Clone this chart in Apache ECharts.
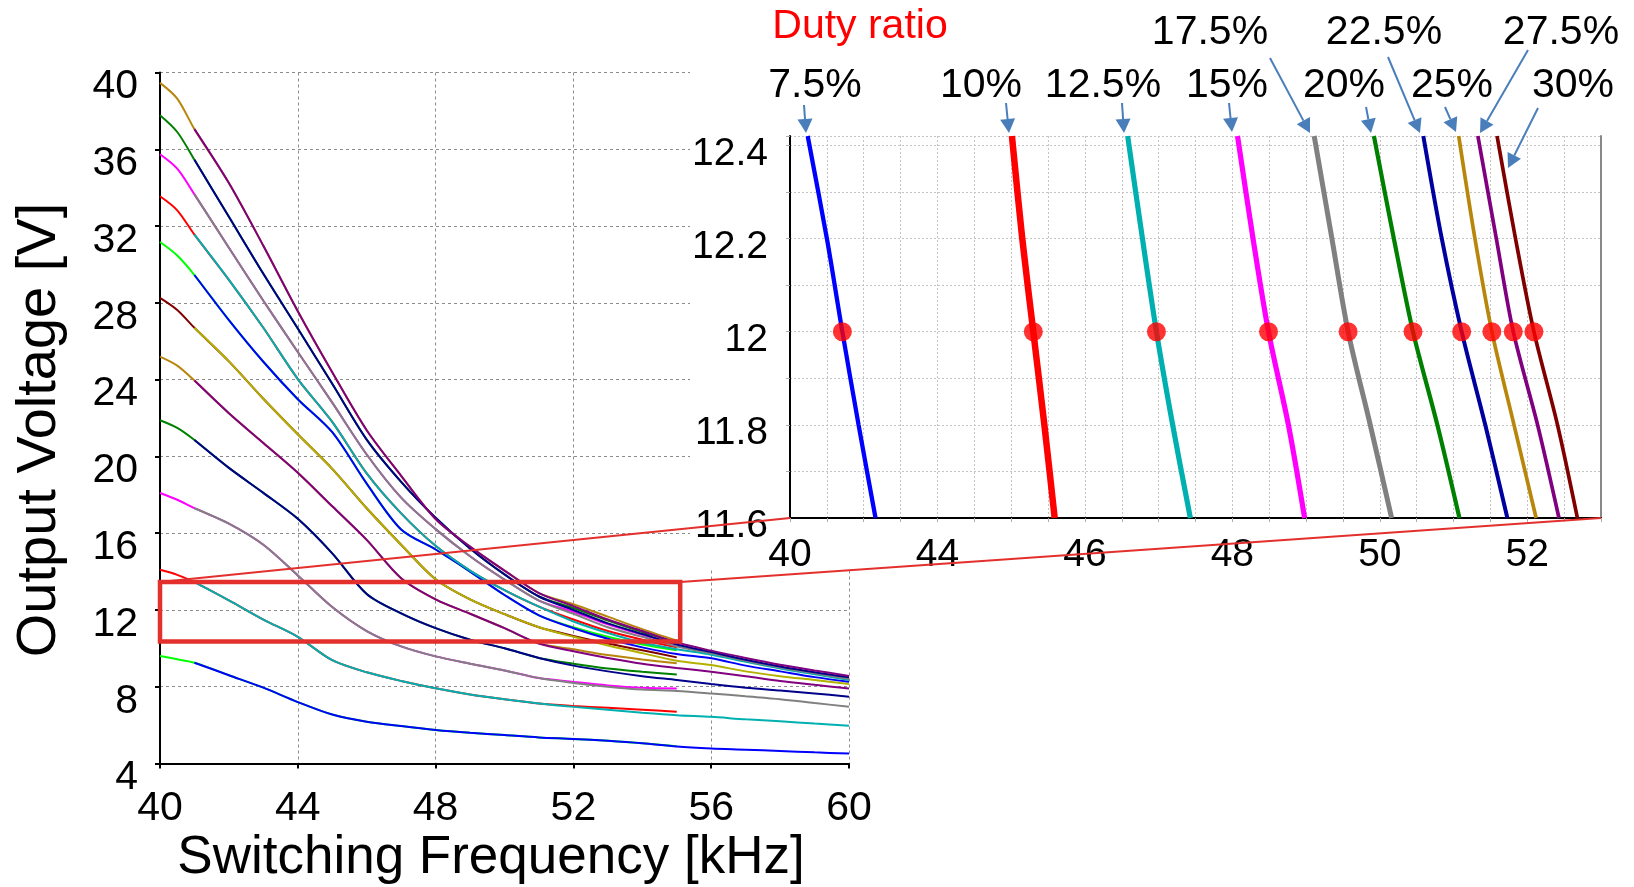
<!DOCTYPE html>
<html>
<head>
<meta charset="utf-8">
<script src="https://cdn.jsdelivr.net/npm/echarts/dist/echarts.min.js"></script>
<style>
  html, body { margin: 0; padding: 0; background: #fff; }
  #chart { width: 1634px; height: 887px; }
</style>
</head>
<body>
<div id="chart"></div>
<script>
// ---- main chart: output voltage vs switching frequency ----
// first trace of each curve (40..55 kHz) and second trace (41..60 kHz)
const freqA = [40, 40.5, 41, 42, 43, 44, 45, 46, 47, 48, 49, 50, 51, 52, 53, 54, 55];
const freqB = [41, 42, 43, 44, 45, 46, 47, 48, 49, 50, 51, 52, 53, 54, 55, 56, 57, 58, 59, 60];

const d5A = [9.6, 9.43, 9.25, 8.6, 7.95, 7.2, 6.55, 6.18, 5.95, 5.75, 5.6, 5.48, 5.36, 5.28, 5.18, 5.05, 4.9];
const d5B = [9.25, 8.6, 7.95, 7.2, 6.55, 6.18, 5.95, 5.75, 5.6, 5.48, 5.36, 5.28, 5.18, 5.05, 4.88, 4.78, 4.72, 4.65, 4.58, 4.52];
const d7A = [14.09, 13.83, 13.45, 12.5, 11.5, 10.6, 9.38, 8.75, 8.3, 7.92, 7.6, 7.35, 7.13, 7.0, 6.9, 6.8, 6.7];
const d7B = [13.45, 12.5, 11.5, 10.6, 9.38, 8.75, 8.3, 7.92, 7.6, 7.35, 7.13, 6.95, 6.8, 6.65, 6.52, 6.43, 6.3, 6.2, 6.08, 5.97];
const d10A = [18.09, 17.74, 17.3, 16.5, 15.4, 13.8, 12.15, 10.9, 10.1, 9.58, 9.2, 8.85, 8.45, 8.25, 8.07, 7.95, 7.91];
const d10B = [17.3, 16.5, 15.4, 13.8, 12.15, 10.9, 10.1, 9.58, 9.2, 8.85, 8.45, 8.2, 8.0, 7.85, 7.78, 7.65, 7.5, 7.35, 7.15, 6.96];
const d12A = [21.88, 21.48, 20.85, 19.4, 18.1, 16.75, 14.95, 12.83, 11.82, 11.05, 10.45, 10.0, 9.5, 9.2, 8.95, 8.78, 8.64];
const d12B = [20.85, 19.4, 18.1, 16.75, 14.95, 12.83, 11.82, 11.05, 10.45, 10.0, 9.5, 9.1, 8.8, 8.55, 8.35, 8.14, 7.95, 7.8, 7.65, 7.48];
const d15A = [25.2, 24.73, 23.95, 22.25, 20.7, 19.15, 17.4, 15.65, 13.65, 12.55, 11.8, 11.05, 10.25, 9.95, 9.65, 9.42, 9.22];
const d15B = [23.95, 22.25, 20.7, 19.15, 17.4, 15.65, 13.65, 12.55, 11.8, 11.05, 10.25, 9.85, 9.5, 9.2, 8.98, 8.78, 8.55, 8.3, 8.1, 7.91];
const d17A = [28.26, 27.63, 26.7, 24.95, 23.0, 21.15, 19.35, 17.3, 15.4, 13.6, 12.55, 11.78, 11.1, 10.65, 10.25, 9.9, 9.53];
const d17B = [26.7, 24.95, 23.0, 21.15, 19.35, 17.3, 15.4, 13.6, 12.55, 11.78, 11.1, 10.6, 10.15, 9.75, 9.35, 9.13, 8.8, 8.55, 8.35, 8.14];
const d20A = [31.17, 30.47, 29.45, 27.1, 24.93, 22.98, 21.26, 18.58, 16.19, 15.15, 14.0, 12.78, 11.72, 11.1, 10.6, 10.2, 9.9];
const d20B = [29.45, 27.1, 24.93, 22.98, 21.26, 18.58, 16.19, 15.15, 14.0, 12.78, 11.72, 11.05, 10.5, 10.05, 9.7, 9.48, 9.1, 8.8, 8.5, 8.26];
const d22A = [33.55, 32.82, 31.55, 29.2, 26.7, 24.03, 21.8, 19.11, 17.03, 15.34, 14.05, 13.03, 12.17, 11.5, 10.9, 10.45, 10.05];
const d22B = [31.55, 29.2, 26.7, 24.03, 21.8, 19.11, 17.03, 15.34, 14.05, 13.03, 12.17, 11.4, 10.8, 10.3, 9.95, 9.67, 9.3, 8.95, 8.65, 8.35];
const d25A = [35.74, 34.99, 33.65, 30.87, 28.11, 25.44, 22.8, 20.1, 17.85, 16.21, 14.8, 13.58, 12.49, 11.9, 11.25, 10.7, 10.2];
const d25B = [33.65, 30.87, 28.11, 25.44, 22.8, 20.1, 17.85, 16.21, 14.8, 13.58, 12.49, 11.8, 11.1, 10.6, 10.1, 9.74, 9.35, 9.0, 8.7, 8.42];
const d27A = [37.77, 36.9, 35.45, 32.48, 29.51, 26.66, 23.78, 20.87, 18.67, 16.8, 15.2, 13.85, 12.7, 12.1, 11.45, 10.85, 10.3];
const d27B = [35.45, 32.48, 29.51, 26.66, 23.78, 20.87, 18.67, 16.8, 15.2, 13.85, 12.7, 12.0, 11.3, 10.75, 10.2, 9.81, 9.4, 9.05, 8.75, 8.49];
const d30A = [39.46, 38.64, 37.05, 34.24, 30.97, 27.56, 24.38, 21.36, 18.99, 16.74, 15.3, 14.05, 12.88, 12.3, 11.65, 11.0, 10.4];
const d30B = [37.05, 34.24, 30.97, 27.56, 24.38, 21.36, 18.99, 16.74, 15.3, 14.05, 12.88, 12.2, 11.5, 10.9, 10.3, 9.88, 9.5, 9.15, 8.85, 8.56];

const mainA = [d5A, d7A, d10A, d12A, d15A, d17A, d20A, d22A, d25A, d27A, d30A];
const mainB = [d5B, d7B, d10B, d12B, d15B, d17B, d20B, d22B, d25B, d27B, d30B];
const colorsA = ['#00ff00', '#ff0000', '#ff00ff', '#008000', '#b8860b', '#800000',
                 '#00ff00', '#ff0000', '#ff00ff', '#008000', '#b8860b'];
const colorsB = ['#0000ff', '#00b0b0', '#808080', '#00008b', '#800080', '#b3b000',
                 '#0000ff', '#00b0b0', '#808080', '#00008b', '#800080'];

// zoomed region (kHz, V) shown in the inset
const zoomFreq = [40, 55.1];
const zoomVolt = [10.36, 13.46];

// ---- inset: zoom around 12 V ----
const insetVolt = [12.42, 12.2, 12.0, 11.8, 11.6];
const in7 = [42.24, 42.5, 42.71, 42.93, 43.16];
const in10 = [45.01, 45.15, 45.3, 45.45, 45.59];
const in12 = [46.58, 46.78, 46.97, 47.19, 47.43];
const in15 = [48.07, 48.28, 48.49, 48.76, 48.98];
const in17 = [49.11, 49.35, 49.57, 49.87, 50.16];
const in20 = [49.92, 50.19, 50.45, 50.78, 51.08];
const in22 = [50.59, 50.84, 51.11, 51.43, 51.73];
const in25 = [51.07, 51.29, 51.52, 51.82, 52.12];
const in27 = [51.33, 51.58, 51.81, 52.14, 52.43];
const in30 = [51.59, 51.84, 52.09, 52.41, 52.68];
const insetLines = [in7, in10, in12, in15, in17, in20, in22, in25, in27, in30];
const dutyLabels = ['7.5%', '10%', '12.5%', '15%', '17.5%', '20%', '22.5%', '25%', '27.5%', '30%'];
const insetColors = ['#0000ff', '#ff0000', '#00b0b0', '#ff00ff', '#808080', '#008000', '#0000a0', '#b8860b', '#800080', '#800000'];
const insetWidths = [4.3, 6.5, 5.2, 5.2, 5, 4.2, 4, 3.7, 3.7, 3.7];
// operating points at 12 V
const dotFreq = [42.71, 45.3, 46.97, 48.49, 49.57, 50.45, 51.11, 51.52, 51.81, 52.09];
const dotVolt = 12;

// duty ratio annotations: label centre, arrow tail, arrow tip (px)
const notes = [
  [815, 86, 804, 105, 806, 133],
  [981, 86, 1006, 103, 1009, 133],
  [1103, 86, 1122, 103, 1124, 133],
  [1227, 86, 1229, 103, 1232, 132],
  [1210, 33, 1270, 58, 1310, 133],
  [1344, 86, 1366, 107, 1371, 133],
  [1384, 33, 1388, 57, 1420, 133],
  [1452, 86, 1445, 107, 1456, 132],
  [1561, 33, 1528, 50, 1480, 133],
  [1573, 86, 1538, 108, 1508, 168]
];

const FONT = '"Liberation Sans", Arial, sans-serif';
const chart = echarts.init(document.getElementById('chart'));

function pairs(xs, ys) {
  return xs.map((x, i) => [x, ys[i]]);
}

const series = [];
mainA.forEach((vals, i) => {
  series.push({
    type: 'line', xAxisIndex: 0, yAxisIndex: 0, data: pairs(freqA, vals),
    showSymbol: false, smooth: 0.3, silent: true, z: 2,
    lineStyle: { color: colorsA[i], width: 2 }
  });
});
mainB.forEach((vals, i) => {
  series.push({
    type: 'line', xAxisIndex: 0, yAxisIndex: 0, data: pairs(freqB, vals),
    showSymbol: false, smooth: 0.3, silent: true, z: 2,
    lineStyle: { color: colorsB[i], width: 2 }
  });
});
insetLines.forEach((xs, i) => {
  series.push({
    name: dutyLabels[i], type: 'line', xAxisIndex: 1, yAxisIndex: 1,
    data: xs.map((x, j) => [x, insetVolt[j]]),
    showSymbol: false, smooth: 0.3, silent: true, z: 6,
    lineStyle: { color: insetColors[i], width: insetWidths[i] }
  });
});
series.push({
  type: 'scatter', xAxisIndex: 1, yAxisIndex: 1, z: 7, silent: true,
  data: dotFreq.map(f => [f, dotVolt]),
  symbolSize: 19, itemStyle: { color: '#ff0000' }
});

const option = {
  animation: false,
  backgroundColor: '#fff',
  grid: [
    { left: 160, top: 72.5, width: 689, height: 691 },
    { left: 790, top: 136, width: 811, height: 382 }
  ],
  xAxis: [
    {
      type: 'value', gridIndex: 0, min: 40, max: 60, interval: 4,
      axisLine: { show: true, onZero: false, lineStyle: { color: '#000', width: 2 } },
      axisTick: { show: true, length: 5, lineStyle: { color: '#000', width: 2 } },
      axisLabel: { fontSize: 41, color: '#000', fontFamily: FONT, margin: 25 },
      splitLine: { show: true, lineStyle: { color: '#8c8c8c', width: 1, type: [3, 3] } }
    },
    {
      type: 'value', gridIndex: 1, min: 42, max: 53, interval: 0.5, z: 5,
      axisLine: { show: true, onZero: false, lineStyle: { color: '#000', width: 2 } },
      axisTick: { show: true, length: 4, lineStyle: { color: '#aaa' } },
      axisLabel: {
        fontSize: 39, color: '#000', fontFamily: FONT, margin: 18,
        formatter: v => {
          const r = Math.round(v);
          if (Math.abs(v - r) > 1e-6 || r % 2 !== 0) return '';
          return r === 42 ? '40' : String(r);
        }
      },
      splitLine: { show: true, lineStyle: { color: '#c4c4c4', width: 1, type: [2, 2] } }
    }
  ],
  yAxis: [
    {
      type: 'value', gridIndex: 0, min: 4, max: 40, interval: 4,
      axisLine: { show: true, onZero: false, lineStyle: { color: '#000', width: 2 } },
      axisTick: { show: true, length: 5, lineStyle: { color: '#000', width: 2 } },
      axisLabel: {
        fontSize: 41, color: '#000', fontFamily: FONT, margin: 22,
        verticalAlign: 'top', lineHeight: 29
      },
      splitLine: { show: true, lineStyle: { color: '#8c8c8c', width: 1, type: [3, 3] } }
    },
    {
      type: 'value', gridIndex: 1, min: 11.6, max: 12.42, interval: 0.1, z: 5,
      axisLine: { show: true, onZero: false, lineStyle: { color: '#000', width: 2 } },
      axisTick: { show: true, length: 4, lineStyle: { color: '#aaa' } },
      axisLabel: {
        fontSize: 39, color: '#000', fontFamily: FONT, margin: 22,
        verticalAlign: 'top', lineHeight: 17,
        formatter: v => {
          const r = Math.round(v * 10);
          if (Math.abs(v * 10 - r) > 1e-6 || r % 2 !== 0 || v > 12.41) return '';
          return String(r / 10);
        }
      },
      splitLine: { show: true, lineStyle: { color: '#c4c4c4', width: 1, type: [2, 2] } }
    },
    {
      type: 'value', gridIndex: 1, position: 'right', min: 11.6, max: 12.42, z: 5,
      axisLine: { show: true, onZero: false, lineStyle: { color: '#888', width: 2 } },
      axisTick: { show: false }, axisLabel: { show: false }, splitLine: { show: false }
    }
  ],
  series: series
};
chart.setOption(option);

// overlay: white panel behind the inset, titles, zoom box, connectors, annotations
const els = [];
els.push({ type: 'rect', z: 3, silent: true, shape: { x: 690, y: 0, width: 944, height: 570 }, style: { fill: '#fff' } });
els.push({
  type: 'text', z: 10, x: 40, y: 430, rotation: Math.PI / 2,
  style: { text: 'Output Voltage [V]', fill: '#000', fontSize: 56, fontFamily: FONT, align: 'center', verticalAlign: 'middle' }
});
els.push({
  type: 'text', z: 10, x: 491, y: 858,
  style: { text: 'Switching Frequency [kHz]', fill: '#000', fontSize: 53, fontFamily: FONT, align: 'center', verticalAlign: 'middle' }
});
els.push({
  type: 'text', z: 10, x: 860, y: 27,
  style: { text: 'Duty ratio', fill: '#ff0000', fontSize: 41, fontFamily: FONT, align: 'center', verticalAlign: 'middle' }
});

const tl = chart.convertToPixel({ gridIndex: 0 }, [zoomFreq[0], zoomVolt[1]]);
const br = chart.convertToPixel({ gridIndex: 0 }, [zoomFreq[1], zoomVolt[0]]);
const tr = chart.convertToPixel({ gridIndex: 0 }, [zoomFreq[1], zoomVolt[1]]);
const inBL = chart.convertToPixel({ gridIndex: 1 }, [42, 11.6]);
const inBR = chart.convertToPixel({ gridIndex: 1 }, [53, 11.6]);
const boxRed = '#e3302d';
els.push({
  type: 'rect', z: 20, silent: true,
  shape: { x: tl[0], y: tl[1], width: br[0] - tl[0], height: br[1] - tl[1] },
  style: { fill: null, stroke: boxRed, lineWidth: 4.5 }
});
els.push({ type: 'line', z: 20, silent: true, shape: { x1: tl[0], y1: tl[1], x2: inBL[0], y2: inBL[1] }, style: { stroke: boxRed, lineWidth: 2 } });
els.push({ type: 'line', z: 20, silent: true, shape: { x1: tr[0], y1: tr[1], x2: inBR[0], y2: inBR[1] }, style: { stroke: boxRed, lineWidth: 2 } });

const arrowBlue = '#4a7ebb';
notes.forEach((n, i) => {
  const [lx, ly, x1, y1, x2, y2] = n;
  els.push({
    type: 'text', z: 10, x: lx, y: ly,
    style: { text: dutyLabels[i], fill: '#000', fontSize: 41, fontFamily: FONT, align: 'center', verticalAlign: 'middle' }
  });
  const dx = x2 - x1, dy = y2 - y1, len = Math.sqrt(dx * dx + dy * dy);
  const ux = dx / len, uy = dy / len;
  const hl = 14, hw = 7.5;
  const bx = x2 - ux * hl, by = y2 - uy * hl;
  els.push({ type: 'line', z: 10, silent: true, shape: { x1: x1, y1: y1, x2: bx, y2: by }, style: { stroke: arrowBlue, lineWidth: 2 } });
  els.push({
    type: 'polygon', z: 10, silent: true,
    shape: { points: [[x2, y2], [bx - uy * hw, by + ux * hw], [bx + uy * hw, by - ux * hw]] },
    style: { fill: arrowBlue }
  });
});

chart.setOption({ graphic: { elements: els } });
</script>
</body>
</html>
